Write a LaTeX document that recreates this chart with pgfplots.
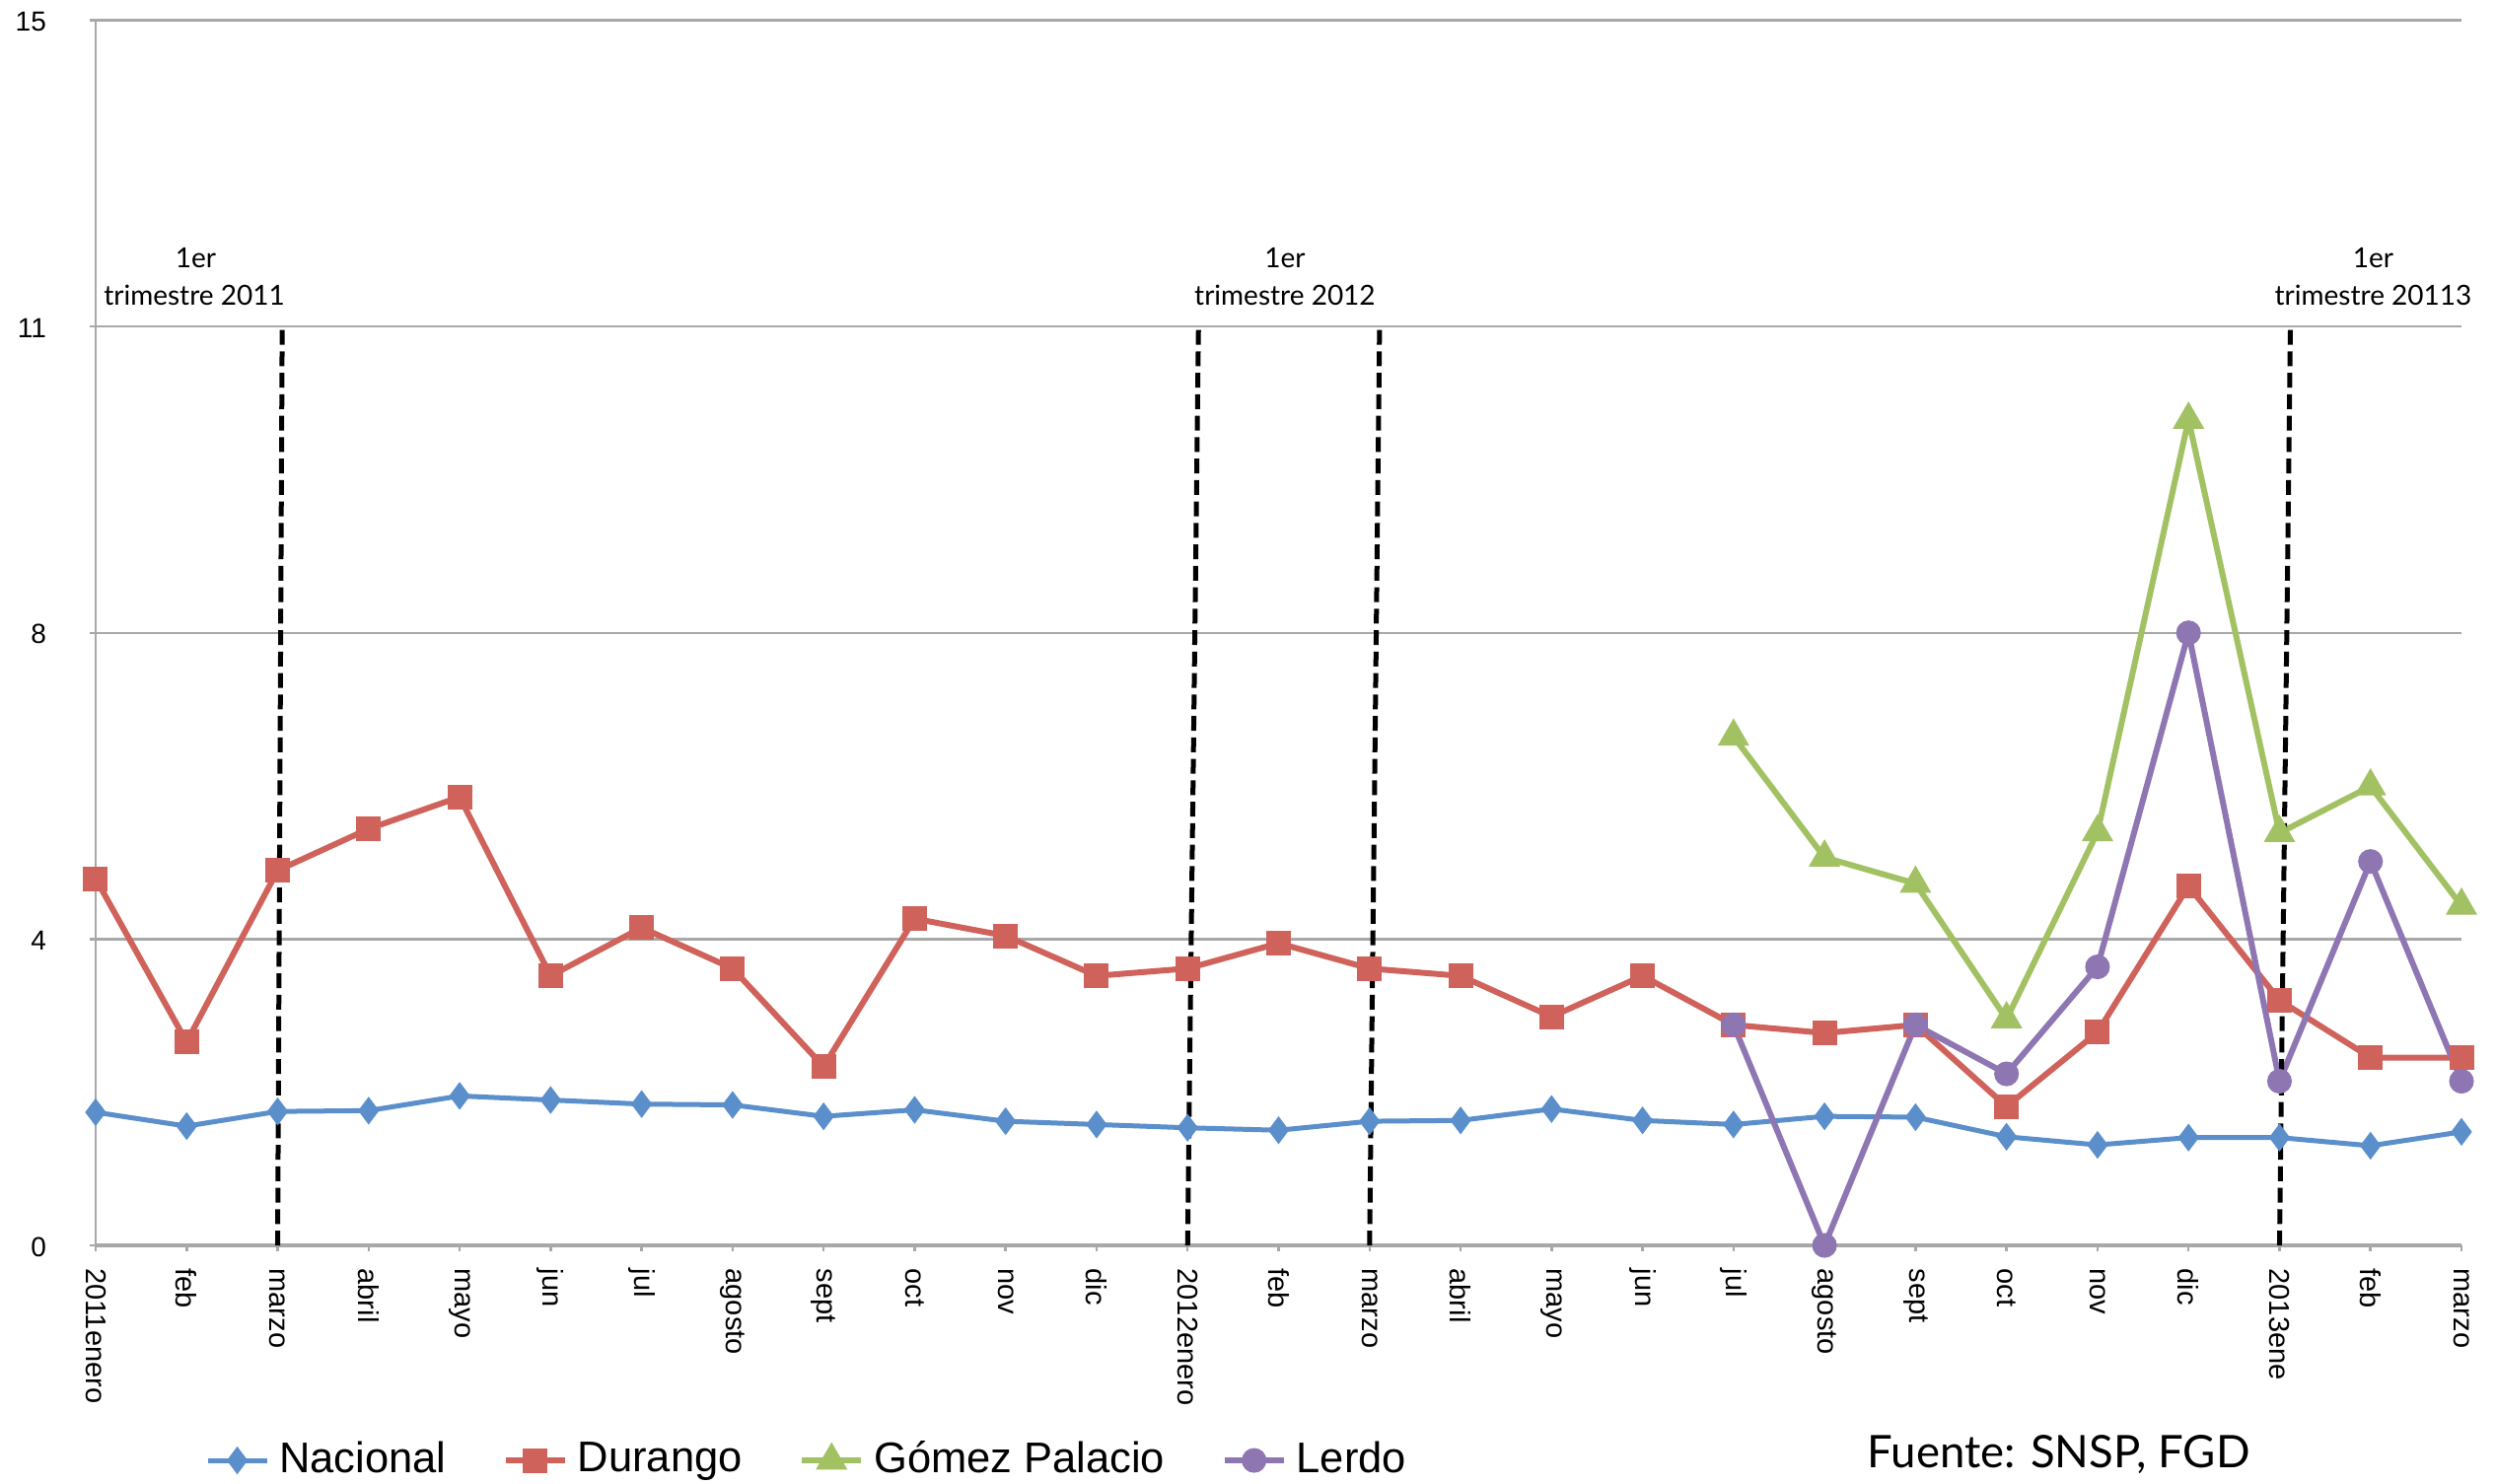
\documentclass[border=0pt]{standalone}
\usepackage{fontspec}
\setmainfont{Liberation Sans}
\newfontfamily\gill{Lato}
\usepackage{pgfplots}
\pgfplotsset{compat=1.18}

\definecolor{cNac}{HTML}{5A8FCB}
\definecolor{cDur}{HTML}{CF625B}
\definecolor{cGom}{HTML}{A2C163}
\definecolor{cLer}{HTML}{8E76B3}
\definecolor{cGrid}{HTML}{A8A8A8}

\begin{document}
\begin{tikzpicture}
\begin{axis}[
  at={(0,0)}, anchor=south west,
  scale only axis, width=479.8pt, height=248.5pt,
  xmin=0, xmax=26, ymin=0, ymax=15,
  xtick={0,...,26},
  xticklabels={2011enero,feb,marzo,abril,mayo,jun,jul,agosto,sept,oct,nov,dic,2012enero,feb,marzo,abril,mayo,jun,jul,agosto,sept,oct,nov,dic,2013ene,feb,marzo},
  ytick={0,3.75,7.5,11.25,15},
  yticklabels={0,4,8,11,15},
  ymajorgrids, major grid style={cGrid, line width=0.5pt},
  axis x line*=bottom, axis y line*=left,
  x axis line style={cGrid, line width=0.8pt, -},
  y axis line style={cGrid, line width=0.5pt, -},
  tick style={cGrid, line width=0.5pt},
  tick align=outside, major tick length=1.2pt,
  xticklabel style={rotate=-90, anchor=west, font=\fontsize{5.8}{6}\selectfont},
  yticklabel style={font=\fontsize{5.6}{6}\selectfont, xshift=-5.3pt, yshift=-0.3pt},
  /pgf/number format/assume math mode=true,
  clip=false,
  legend columns=4,
  legend cell align=left,
  legend image code/.code={\draw[mark repeat=2,mark phase=2] plot coordinates {(0pt,0pt) (6pt,0pt) (12pt,0pt)};},
  legend style={at={(axis description cs:0.0459,-0.1755)}, anchor=west, draw=none, fill=none, inner sep=0pt,
    font=\fontsize{8.7}{10}\selectfont,
    /tikz/every even column/.append style={column sep=9.5pt}},
]
\addplot[cNac, line width=1pt, mark=diamond*, mark size=2pt, mark options={solid}] coordinates {
(0,1.63) (1,1.46) (2,1.64) (3,1.65) (4,1.83) (5,1.78) (6,1.73) (7,1.72) (8,1.58) (9,1.66)
(10,1.52) (11,1.48) (12,1.44) (13,1.41) (14,1.52) (15,1.53) (16,1.67) (17,1.53) (18,1.48) (19,1.58)
(20,1.57) (21,1.33) (22,1.23) (23,1.32) (24,1.32) (25,1.22) (26,1.39)};
\addlegendentry{Nacional}
\addplot[cDur, line width=1.2pt, mark=square*, mark size=1.9pt, mark options={solid}] coordinates {
(0,4.49) (1,2.49) (2,4.59) (3,5.10) (4,5.49) (5,3.30) (6,3.89) (7,3.39) (8,2.19) (9,4.00)
(10,3.79) (11,3.30) (12,3.39) (13,3.70) (14,3.39) (15,3.30) (16,2.80) (17,3.30) (18,2.70) (19,2.60)
(20,2.70) (21,1.70) (22,2.61) (23,4.40) (24,3.00) (25,2.30) (26,2.30)};
\addlegendentry{Durango}
\addplot[cGom, line width=1.2pt, mark=triangle*, mark size=2.5pt, mark options={solid}] coordinates {
(18,6.23) (19,4.75) (20,4.43) (21,2.77) (22,5.06) (23,10.11) (24,5.05) (25,5.62) (26,4.16)};
\addlegendentry{Gómez Palacio}
\addplot[cLer, line width=1.2pt, mark=*, mark size=1.9pt, mark options={solid}] coordinates {
(18,2.70) (19,0) (20,2.70) (21,2.10) (22,3.41) (23,7.50) (24,2.01) (25,4.70) (26,2.01)};
\addlegendentry{Lerdo}

\draw[black, line width=1pt, dash pattern=on 3pt off 1.35pt] (axis cs:2,0) -- (axis cs:2.05,11.25);
\draw[black, line width=1pt, dash pattern=on 3pt off 1.35pt] (axis cs:12,0) -- (axis cs:12.12,11.25);
\draw[black, line width=1pt, dash pattern=on 3pt off 1.35pt] (axis cs:14,0) -- (axis cs:14.11,11.25);
\draw[black, line width=1pt, dash pattern=on 3pt off 1.35pt] (axis cs:24,0) -- (axis cs:24.12,11.25);

\node[anchor=base, inner sep=0pt, font=\gill\fontsize{5.6}{7}\selectfont] at (axis cs:1.10,11.97) {1er};
\node[anchor=base, inner sep=0pt, font=\gill\fontsize{5.6}{7}\selectfont] at (axis cs:1.084,11.51) {trimestre 2011};
\node[anchor=base, inner sep=0pt, font=\gill\fontsize{5.6}{7}\selectfont] at (axis cs:13.07,11.97) {1er};
\node[anchor=base, inner sep=0pt, font=\gill\fontsize{5.6}{7}\selectfont] at (axis cs:13.07,11.51) {trimestre 2012};
\node[anchor=base, inner sep=0pt, font=\gill\fontsize{5.6}{7}\selectfont] at (axis cs:25.03,11.97) {1er};
\node[anchor=base, inner sep=0pt, font=\gill\fontsize{5.6}{7}\selectfont] at (axis cs:25.03,11.51) {trimestre 20113};
\node[anchor=base west, inner sep=0pt, font=\gill\fontsize{9.1}{11}\selectfont] at (axis cs:19.46,-2.72) {Fuente: SNSP, FGD};
\end{axis}
\pgfresetboundingbox
\path[use as bounding box] (-19.4pt,-48.2pt) rectangle (486.8pt,252.6pt);
\end{tikzpicture}
\end{document}
